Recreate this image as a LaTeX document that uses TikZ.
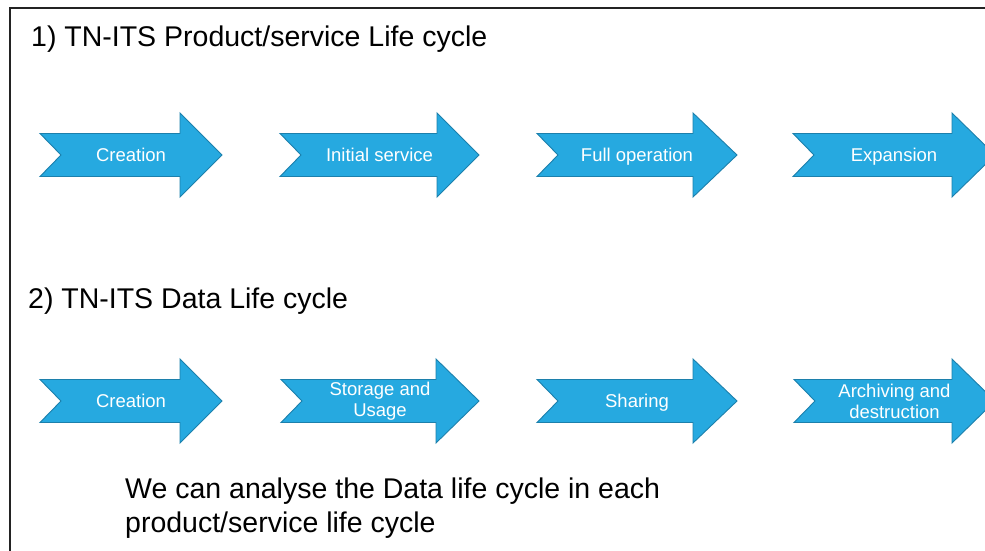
\documentclass[tikz,border=0pt]{standalone}
\usepackage{fontspec}
\setmainfont{Liberation Sans}
\definecolor{stagefill}{RGB}{38,169,224}
\definecolor{stageedge}{RGB}{28,128,172}
\definecolor{framecol}{RGB}{35,35,35}

% Notched arrow with a white label at its centre.
% [#1] extra label style, #2 name, #3 tail x, #4 head base x, #5 tip x, #6 centre y, #7 label
\newcommand{\stagearrow}[7][]{%
  \draw[stageshape] (#3,#6-21.5) -- (#4,#6-21.5) -- (#4,#6-42) -- (#5,#6)
    -- (#4,#6+42) -- (#4,#6+21.5) -- (#3,#6+21.5) -- (#3+21,#6) -- cycle;
  \node[stagelabel,#1] (#2) at ({(#3+#5)/2},#6) {#7};%
}

\begin{document}
\begin{tikzpicture}[x=1pt,y=-1pt,
  stageshape/.style={fill=stagefill,draw=stageedge,line width=0.9pt,line join=miter},
  stagelabel/.style={text=white,font=\fontsize{18.5}{21}\selectfont,align=center,inner sep=0pt},
  oneline/.style={text height=13.5pt,text depth=4.5pt,yshift=-1.5pt},
  heading/.style={anchor=base west,inner sep=0pt,font=\fontsize{28.5}{34}\selectfont},
  note/.style={anchor=north west,inner sep=0pt,align=left,font=\fontsize{28.5}{34}\selectfont}]
\useasboundingbox (0,0) rectangle (985,551);
\clip (0,0) rectangle (985,551);
\fill[white] (0,0) rectangle (985,551);

% frame
\draw[framecol,line width=2pt] (9.5,551) -- (9.5,8.5) -- (985,8.5);

% 1) product/service life cycle
\node[heading] (title1) at (31,47) {1) TN-ITS Product/service Life cycle};
\stagearrow[oneline]{p1}{40}{180}{222}{155}{Creation}
\stagearrow[oneline]{p2}{280}{437}{479}{155}{Initial service}
\stagearrow[oneline]{p3}{537}{693}{737}{155}{Full operation}
\stagearrow[oneline]{p4}{793}{952}{995}{155}{Expansion}

% 2) data life cycle
\node[heading] (title2) at (28,308) {2) TN-ITS Data Life cycle};
\stagearrow[oneline]{d1}{40}{180}{222}{401}{Creation}
\stagearrow{d2}{281}{436}{479}{401}{Storage and\\Usage}
\stagearrow[oneline]{d3}{537}{693}{737}{401}{Sharing}
\stagearrow{d4}{794}{952}{995}{401}{Archiving and\\destruction}

\node[note] (remark) at (125,478) {We can analyse the Data life cycle in each\\product/service life cycle};
\end{tikzpicture}
\end{document}
